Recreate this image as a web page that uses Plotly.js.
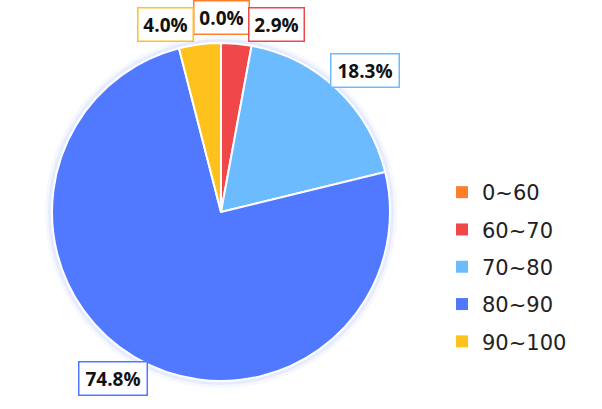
<!DOCTYPE html>
<html>
<head>
<meta charset="utf-8">
<script src="https://cdn.plot.ly/plotly-3.0.1.min.js"></script>
<style>
  html, body { margin: 0; padding: 0; background: #fff; }
  #chart { width: 602px; height: 409px; }
</style>
</head>
<body>
<div id="chart"></div>
<script>
// score bands and share of students (%)
const bands = ['0~60', '60~70', '70~80', '80~90', '90~100'];
const shares = [0.0, 2.9, 18.3, 74.8, 4.0];
const colors = ['#FF7F2A', '#F04848', '#6CBBFF', '#5079FF', '#FFC21C'];

const W = 602, H = 409;
const cx = 221, cy = 212, R = 169;

// soft halo behind the pie
const halo = [[176, 0.05], [173, 0.09]].map(([r, a]) => ({
  type: 'pie', values: [1], labels: ['halo'], sort: false,
  marker: {colors: ['rgba(80,121,255,' + a + ')']},
  textinfo: 'none', hoverinfo: 'skip', showlegend: false,
  domain: {x: [(cx - r) / W, (cx + r) / W], y: [(H - cy - r) / H, (H - cy + r) / H]}
}));

const pie = {
  type: 'pie',
  labels: bands,
  values: shares,
  sort: false,
  direction: 'clockwise',
  marker: {colors: colors, line: {color: '#fff', width: 2}},
  textinfo: 'none',
  showlegend: false,
  domain: {x: [(cx - R) / W, (cx + R) / W], y: [(H - cy - R) / H, (H - cy + R) / H]}
};

// legend entries, one group each so rows can be spaced
const legendTraces = bands.map((b, i) => ({
  type: 'scatter', x: [null], y: [null], mode: 'markers', name: b,
  legendgroup: 'g' + i,
  marker: {symbol: 'square', size: 12, color: colors[i]},
  xaxis: 'x', yaxis: 'y', hoverinfo: 'skip'
}));

// label boxes placed along each slice's mid angle
const total = shares.reduce((a, b) => a + b, 0);
const rx = 210, ry = 194;
let cum = 0;
const labs = shares.map((v, i) => {
  const th = (cum + v / 2) / total * 2 * Math.PI;
  cum += v;
  const txt = v.toFixed(1) + '%';
  return {i, txt, dx: rx * Math.sin(th), dy: -ry * Math.cos(th), w: txt.length * 13 + 6};
});

// push apart labels crowding the top
const topLabs = labs.filter(l => l.dy < -150).sort((a, b) => a.dx - b.dx);
if (topLabs.length) {
  let k = 0;
  topLabs.forEach((l, j) => { if (Math.abs(l.dx) < Math.abs(topLabs[k].dx)) k = j; });
  for (let j = k + 1; j < topLabs.length; j++) {
    const p = topLabs[j - 1], l = topLabs[j];
    const minDx = p.dx + (p.w + l.w) / 2 - 3;
    if (l.dx < minDx) l.dx = minDx;
  }
  for (let j = k - 1; j >= 0; j--) {
    const p = topLabs[j + 1], l = topLabs[j];
    const maxDx = p.dx - (p.w + l.w) / 2 + 3;
    if (l.dx > maxDx) l.dx = maxDx;
  }
  topLabs.forEach(l => { l.dy = -ry * Math.sqrt(Math.max(0, 1 - (l.dx / rx) ** 2)); });
}

const annotations = labs.map(l => ({
  xref: 'paper', yref: 'paper',
  x: (cx + l.dx) / W, y: 1 - (cy + l.dy) / H,
  xanchor: 'center', yanchor: 'middle',
  text: '<b>' + l.txt + '</b>',
  showarrow: false,
  font: {family: 'Open Sans, sans-serif', size: 19, color: '#111'},
  bgcolor: '#fff',
  bordercolor: colors[l.i],
  borderwidth: 1.5,
  borderpad: 3,
  width: l.w - 10
}));

const layout = {
  width: W, height: H,
  margin: {l: 0, r: 0, t: 0, b: 0},
  paper_bgcolor: '#fff', plot_bgcolor: 'rgba(0,0,0,0)',
  xaxis: {visible: false, domain: [0.99, 1]},
  yaxis: {visible: false, domain: [0.99, 1]},
  showlegend: true,
  legend: {
    x: 442 / W, xanchor: 'left', y: 1 - 267 / H, yanchor: 'middle',
    font: {family: 'DejaVu Sans, sans-serif', size: 21, color: '#222'},
    tracegroupgap: 7, bgcolor: 'rgba(0,0,0,0)'
  },
  annotations: annotations
};

Plotly.newPlot('chart', [...halo, pie, ...legendTraces], layout, {staticPlot: true});
</script>
</body>
</html>
